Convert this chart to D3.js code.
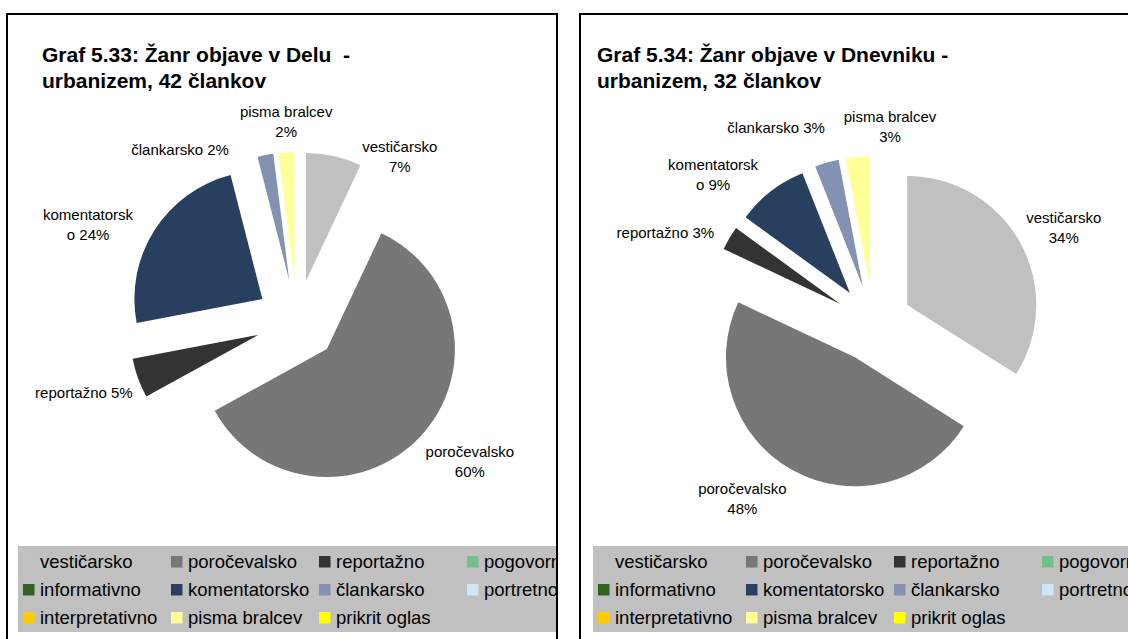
<!DOCTYPE html>
<html>
<head>
<meta charset="utf-8">
<script src="https://cdn.jsdelivr.net/npm/d3@7"></script>
<style>
  body { margin: 0; background: #fff; }
  svg text { font-family: "Liberation Sans", Arial, sans-serif; white-space: pre; }
</style>
</head>
<body>
<svg id="chart" width="1128" height="639"></svg>
<script>
// categories (pie order, clockwise from 12 o'clock) and legend order
const categories = ["vestičarsko", "poročevalsko", "reportažno", "pogovorno", "informativno",
  "komentatorsko", "člankarsko", "portretno", "interpretativno", "pisma bralcev", "prikrit oglas"];
const colors = ["#c0c0c0", "#777777", "#333333", "#72c087", "#32621f",
  "#283f60", "#8391b2", "#cfe6f6", "#ffcc00", "#ffff99", "#ffff00"];

// shares in %
const deloValues     = [7, 60, 5, 0, 0, 24, 2, 0, 0, 2, 0];
const dnevnikValues  = [34, 48, 3, 0, 0, 9, 3, 0, 0, 3, 0];

const deloTitle    = ["Graf 5.33: Žanr objave v Delu  -", "urbanizem, 42 člankov"];
const dnevnikTitle = ["Graf 5.34: Žanr objave v Dnevniku -", "urbanizem, 32 člankov"];

// label placement: [angle deg, radius] of label centre from pie centre, and wrap index (-1 = none)
const deloLabels = {
  "vestičarsko": [32.0, 194, 11], "poročevalsko": [129.2, 223, 12], "reportažno": [251.3, 225, -1],
  "komentatorsko": [294.7, 230, 12], "člankarsko": [325.6, 207, -1], "pisma bralcev": [356.9, 200, 13]
};
const dnevnikLabels = {
  "vestičarsko": [63.3, 213, 11], "poročevalsko": [216.8, 219, 12], "reportažno": [293.5, 227, -1],
  "komentatorsko": [312.9, 219, 12], "člankarsko": [333.6, 219, -1], "pisma bralcev": [4.8, 197, 13]
};

const svg = d3.select("#chart");

const panels = [
  { id: "delo", values: deloValues, title: deloTitle, labels: deloLabels,
    x0: 7, x1: 557, cx: 297, cy: 321, r: 128, explode: 41, titleX: 42, legendX: 18 },
  { id: "dnevnik", values: dnevnikValues, title: dnevnikTitle, labels: dnevnikLabels,
    x0: 580, x1: 1140, cx: 873.5, cy: 323.5, r: 129, explode: 38.5, titleX: 597, legendX: 593 }
];

const pie = d3.pie().sort(null).value(d => d.value);

panels.forEach(p => {
  const data = categories.map((c, i) => ({ name: c, value: p.values[i], color: colors[i] }));

  svg.append("clipPath").attr("id", "clip-" + p.id)
    .append("rect").attr("x", p.x0).attr("y", 14).attr("width", p.x1 - p.x0).attr("height", 660);

  const g = svg.append("g").attr("clip-path", `url(#clip-${p.id})`);

  // title
  g.append("text")
    .attr("x", p.titleX).attr("y", 55)
    .style("font-size", "21px").style("font-weight", "bold")
    .selectAll("tspan").data(p.title).join("tspan")
      .attr("x", p.titleX).attr("y", (d, i) => 55 + i * 25.5).attr("dy", "0.35em")
      .text(d => d);

  // slices
  const arc = d3.arc().innerRadius(0).outerRadius(p.r);
  const arcs = pie(data).filter(d => d.value > 0);
  const pg = g.append("g").attr("transform", `translate(${p.cx},${p.cy})`);

  pg.selectAll("path").data(arcs).join("path")
    .attr("fill", d => d.data.color)
    .attr("transform", d => {
      const [dx, dy] = d3.pointRadial((d.startAngle + d.endAngle) / 2, p.explode);
      return `translate(${dx},${dy})`;
    })
    .attr("d", arc);

  // data labels
  pg.selectAll("text.lbl").data(arcs).join("text")
    .attr("class", "lbl")
    .attr("text-anchor", "middle")
    .style("font-size", "15px")
    .each(function(d) {
      const [ang, rad, brk] = p.labels[d.data.name];
      const [lx, ly] = d3.pointRadial(ang * Math.PI / 180, rad);
      const txt = d.data.name + " " + d.data.value + "%";
      const lines = brk < 0 ? [txt] : [txt.slice(0, brk).trim(), txt.slice(brk).trim()];
      d3.select(this).selectAll("tspan").data(lines).join("tspan")
        .attr("x", lx)
        .attr("y", (t, i) => ly + (i - (lines.length - 1) / 2) * 20)
        .attr("dy", "0.35em")
        .text(t => t);
    });

  // legend
  const lg = g.append("g");
  lg.append("rect")
    .attr("x", p.legendX).attr("y", 546)
    .attr("width", 560).attr("height", 86)
    .attr("fill", "#c0c0c0");

  const item = lg.selectAll("g.item").data(data).join("g")
    .attr("class", "item")
    .attr("transform", (d, i) => `translate(${p.legendX + 5 + (i % 4) * 148},${562 + Math.floor(i / 4) * 28})`);
  item.append("rect")
    .attr("x", 0).attr("y", -6).attr("width", 11.5).attr("height", 11.5)
    .attr("fill", d => d.color);
  item.append("text")
    .attr("x", 17).attr("y", 0).attr("dy", "0.35em")
    .style("font-size", "18.5px")
    .text(d => d.name);

  // frame
  svg.append("rect")
    .attr("x", p.x0).attr("y", 14)
    .attr("width", p.x1 - p.x0).attr("height", 660)
    .attr("fill", "none").attr("stroke", "#000").attr("stroke-width", 2);
});
</script>
</body>
</html>
